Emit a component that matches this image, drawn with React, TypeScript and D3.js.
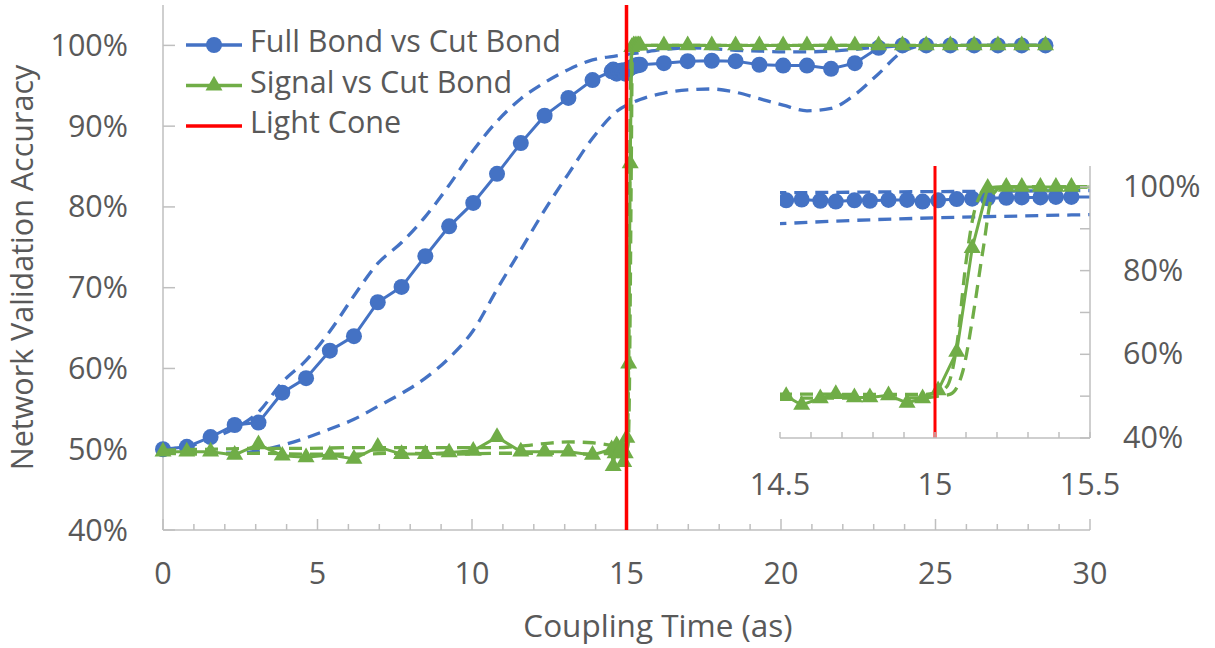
import React from "react";
import * as d3 from "d3";

// Coupling time (as) of every sample; dense sampling around the light cone
const time = [
  0, 0.77, 1.54, 2.32, 3.09, 3.86, 4.63, 5.4, 6.18, 6.95, 7.72, 8.49, 9.26, 10.04, 10.81, 11.58, 12.35, 13.12, 13.9,
  14.52, 14.57, 14.63, 14.68, 14.74, 14.79, 14.85, 14.91, 14.96, 15.01, 15.07, 15.12, 15.17, 15.23, 15.28, 15.34, 15.39, 15.44,
  16.21, 16.98, 17.76, 18.53, 19.3, 20.07, 20.84, 21.62, 22.39, 23.16, 23.93, 24.7, 25.48, 26.25, 27.02, 27.79, 28.56,
];

// Validation accuracy (%) — Full Bond vs Cut Bond
const fullBond = [
  50.0, 50.3, 51.5, 53.0, 53.3, 57.0, 58.8, 62.2, 64.0, 68.2, 70.1, 73.9, 77.6, 80.5, 84.1, 87.9, 91.3, 93.5, 95.7,
  96.8, 97.0, 96.7, 96.5, 96.8, 96.7, 96.9, 96.9, 96.5, 96.8, 97.1, 97.2, 97.3, 97.4, 97.5, 97.5, 97.6, 97.6,
  97.8, 98.05, 98.1, 98.05, 97.6, 97.5, 97.5, 97.1, 97.8, 99.7, 100, 100, 100, 100, 100, 100, 100,
];

// Validation accuracy (%) — Signal vs Cut Bond
const signal = [
  49.7, 49.7, 49.7, 49.3, 50.6, 49.2, 49.0, 49.3, 48.8, 50.3, 49.4, 49.4, 49.6, 49.8, 51.5, 49.7, 49.7, 49.7, 49.3,
  50.0, 47.9, 49.5, 50.5, 49.7, 49.7, 50.2, 48.4, 49.5, 51.4, 60.6, 85.4, 99.8, 100, 100, 100, 100, 100,
  100, 100, 100, 100, 100, 100, 100, 100, 100, 100, 100, 100, 100, 100, 100, 100, 100,
];

// Spread band of the Full Bond accuracy
const bandTime = [
  0, 0.77, 1.54, 2.32, 3.09, 3.86, 4.63, 5.4, 6.18, 6.95, 7.72, 8.49, 9.26, 10.04, 10.81, 11.58, 12.35, 13.12, 13.9,
  14.67, 15.44, 16.21, 16.98, 17.76, 18.53, 19.3, 20.07, 20.84, 21.62, 22.39, 23.16, 23.93, 24.7, 25.48, 26.25, 27.02, 27.79, 28.56,
];
const fullUpper = [
  50.0, 50.3, 51.3, 52.6, 54.6, 58.3, 61.0, 64.6, 69.0, 73.0, 75.6, 78.8, 82.7, 87.0, 90.6, 93.4, 95.4, 97.0, 98.2,
  98.7, 99.1, 99.5, 99.7, 99.6, 99.4, 99.3, 99.2, 99.2, 99.3, 99.5, 99.8, 100, 100, 100, 100, 100, 100, 100,
];
const fullLower = [
  49.8, 49.6, 49.5, 49.5, 49.8, 50.5, 51.4, 52.5, 53.7, 55.3, 56.9, 58.8, 61.3, 64.7, 69.8, 74.7, 79.6, 84.1, 88.5,
  91.8, 93.3, 94.1, 94.5, 94.6, 94.2, 93.4, 92.6, 91.9, 92.2, 93.9, 96.5, 99.2, 100, 100, 100, 100, 100, 100,
];

// Spread band of the Signal accuracy
const signalUpperTime = [
  0, 1.54, 3.09, 4.63, 6.18, 7.72, 9.26, 10.81, 11.58, 12.35, 13.12, 13.9, 14.52, 14.96, 15.01, 15.04, 15.07, 15.1,
  15.13, 15.17, 15.23, 16.21, 20.07, 24.7, 28.56,
];
const signalUpper = [
  49.9, 50.0, 50.1, 50.1, 50.2, 50.2, 50.2, 50.2, 50.4, 50.7, 50.9, 50.8, 50.5, 50.4, 50.9, 52.5, 62.0, 82.0,
  95.0, 99.8, 100, 100, 100, 100, 100,
];
const signalLowerTime = [
  0, 1.54, 3.09, 4.63, 6.18, 7.72, 9.26, 10.81, 12.35, 13.9, 14.52, 14.96, 15.01, 15.05, 15.09, 15.12, 15.155, 15.185,
  15.22, 16.21, 20.07, 24.7, 28.56,
];
const signalLower = [
  49.5, 49.4, 49.5, 49.4, 49.4, 49.5, 49.4, 49.5, 49.5, 49.4, 49.5, 49.6, 50.0, 50.5, 56.0, 68.0, 85.0, 98.0,
  100, 100, 100, 100, 100,
];

const lightCone = 15;

const xTickLabels = [0, 5, 10, 15, 20, 25, 30];
const yTickLabels = [40, 50, 60, 70, 80, 90, 100];
const insetXTickLabels = [14.5, 15, 15.5];
const insetYTickLabels = [40, 60, 80, 100];

const legendItems = ["Full Bond vs Cut Bond", "Signal vs Cut Bond", "Light Cone"];

const BLUE = "#4472C4";
const GREEN = "#70AD47";
const RED = "#FF0000";
const TEXT = "#595959";
const AXIS = "#BFBFBF";
const FONT = "'Open Sans', sans-serif";
const FS = 30.5;

type Pt = [number, number];
const zip = (xs: number[], ys: number[]): Pt[] => xs.map((t, i) => [t, ys[i]] as Pt);

const triangle = d3.symbol(d3.symbolTriangle, 125)() as string;
const R = 8;

function Plot({ sx, sy }: { sx: d3.ScaleLinear<number, number>; sy: d3.ScaleLinear<number, number> }) {
  const straight = d3.line<Pt>().x((d) => sx(d[0])).y((d) => sy(d[1]));
  const smooth = d3.line<Pt>().x((d) => sx(d[0])).y((d) => sy(d[1])).curve(d3.curveMonotoneX);
  const dash = "13 8";
  const blue = zip(time, fullBond);
  const green = zip(time, signal);
  return (
    <g>
      <path d={smooth(zip(bandTime, fullUpper)) || ""} fill="none" stroke={BLUE} strokeWidth={3.3} strokeDasharray={dash} />
      <path d={smooth(zip(bandTime, fullLower)) || ""} fill="none" stroke={BLUE} strokeWidth={3.3} strokeDasharray={dash} />
      <path d={straight(blue) || ""} fill="none" stroke={BLUE} strokeWidth={3} />
      {blue.map((d, i) => (
        <circle key={"b" + i} cx={sx(d[0])} cy={sy(d[1])} r={R} fill={BLUE} />
      ))}
      <path d={smooth(zip(signalUpperTime, signalUpper)) || ""} fill="none" stroke={GREEN} strokeWidth={3.3} strokeDasharray={dash} />
      <path d={smooth(zip(signalLowerTime, signalLower)) || ""} fill="none" stroke={GREEN} strokeWidth={3.3} strokeDasharray={dash} />
      <path d={straight(green) || ""} fill="none" stroke={GREEN} strokeWidth={3} />
      {green.map((d, i) => (
        <path key={"g" + i} d={triangle} transform={`translate(${sx(d[0])},${sy(d[1])})`} fill={GREEN} />
      ))}
    </g>
  );
}

export default function App() {
  const x = d3.scaleLinear().domain([0, 30]).range([163, 1090]);
  const y = d3.scaleLinear().domain([40, 105]).range([530, 5]);
  const ix = d3.scaleLinear().domain([14.5, 15.5]).range([780, 1090]);
  const iy = d3.scaleLinear().domain([40, 105]).range([438, 166]);

  const minorX = x.ticks(30);
  const insetMinorX = ix.ticks(10);
  const insetMinorY = iy.ticks(7).filter((v) => v <= 100);
  const legendColors = [BLUE, GREEN, RED];

  return (
    <svg width={1215} height={648} style={{ display: "block", position: "absolute", left: 0, top: 0, background: "#fff" }}>
      <rect x={0} y={0} width={1215} height={648} fill="#fff" />
      <defs>
        <clipPath id="inset-clip">
          <rect x={ix.range()[0]} y={iy.range()[1]} width={ix.range()[1] - ix.range()[0]} height={iy.range()[0] - iy.range()[1]} />
        </clipPath>
      </defs>

      {/* main axes */}
      <line x1={x(0)} x2={x(0)} y1={y(105)} y2={y(40)} stroke={AXIS} strokeWidth={1.5} />
      <line x1={x(0)} x2={x(30)} y1={y(40)} y2={y(40)} stroke={AXIS} strokeWidth={1.5} />
      {yTickLabels.map((v) => (
        <g key={"yt" + v}>
          <line x1={x(0)} x2={x(0) + 12} y1={y(v)} y2={y(v)} stroke={AXIS} strokeWidth={1.5} />
          <text x={128} y={y(v) + 10.5} textAnchor="end" fontFamily={FONT} fontSize={FS} fill={TEXT}>
            {v}%
          </text>
        </g>
      ))}
      {minorX.map((v) => (
        <line key={"xm" + v} x1={x(v)} x2={x(v)} y1={y(40)} y2={y(40) - (v % 5 === 0 ? 11 : 6)} stroke={AXIS} strokeWidth={1.5} />
      ))}
      {xTickLabels.map((v) => (
        <text key={"xt" + v} x={x(v)} y={584} textAnchor="middle" fontFamily={FONT} fontSize={FS} fill={TEXT}>
          {v}
        </text>
      ))}
      <text x={658} y={637} textAnchor="middle" fontFamily={FONT} fontSize={31.5} fill={TEXT}>
        Coupling Time (as)
      </text>
      <text transform={`translate(33,${(y(105) + y(40)) / 2}) rotate(-90)`} textAnchor="middle" fontFamily={FONT} fontSize={FS} fill={TEXT}>
        Network Validation Accuracy
      </text>

      {/* main series */}
      <Plot sx={x} sy={y} />
      <line x1={x(lightCone)} x2={x(lightCone)} y1={y(105)} y2={y(40)} stroke={RED} strokeWidth={3.5} />

      {/* legend */}
      {legendItems.map((label, i) => {
        const ly = 45 + i * 40.5;
        return (
          <g key={label}>
            <line x1={186} x2={242} y1={ly} y2={ly} stroke={legendColors[i]} strokeWidth={3.5} />
            {i === 0 && <circle cx={214} cy={ly} r={R} fill={BLUE} />}
            {i === 1 && <path d={triangle} transform={`translate(214,${ly})`} fill={GREEN} />}
            <text x={250} y={ly + 7} fontFamily={FONT} fontSize={FS} fill={TEXT}>
              {label}
            </text>
          </g>
        );
      })}

      {/* inset: zoom around the light cone */}
      <rect x={780} y={166} width={310} height={272} fill="#fff" />
      <g clipPath="url(#inset-clip)">
        <Plot sx={ix} sy={iy} />
      </g>
      <line x1={ix(lightCone)} x2={ix(lightCone)} y1={iy(105)} y2={iy(40)} stroke={RED} strokeWidth={3} />
      <line x1={ix(14.5)} x2={ix(15.5)} y1={iy(40)} y2={iy(40)} stroke={AXIS} strokeWidth={1.5} />
      <line x1={ix(15.5)} x2={ix(15.5)} y1={iy(105)} y2={iy(40)} stroke={AXIS} strokeWidth={1.5} />
      {insetMinorX.map((v) => (
        <line key={"ixm" + v} x1={ix(v)} x2={ix(v)} y1={iy(40)} y2={iy(40) - 6} stroke={AXIS} strokeWidth={1.5} />
      ))}
      {insetMinorY.map((v) => (
        <line key={"iym" + v} x1={ix(15.5) - 10} x2={ix(15.5)} y1={iy(v)} y2={iy(v)} stroke={AXIS} strokeWidth={1.5} />
      ))}
      {insetXTickLabels.map((v) => (
        <text key={"ixt" + v} x={ix(v)} y={495} textAnchor="middle" fontFamily={FONT} fontSize={FS} fill={TEXT}>
          {v}
        </text>
      ))}
      {insetYTickLabels.map((v) => (
        <text key={"iyt" + v} x={1123} y={iy(v) + 10} fontFamily={FONT} fontSize={FS} fill={TEXT}>
          {v}%
        </text>
      ))}
    </svg>
  );
}
